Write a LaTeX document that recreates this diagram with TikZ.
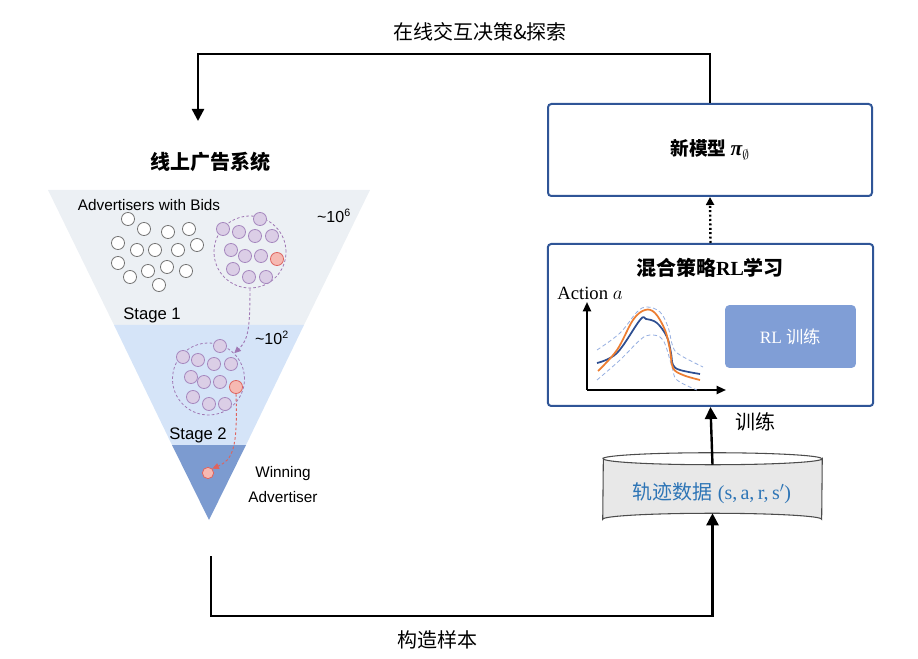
\documentclass[tikz,border=0pt]{standalone}
\usepackage{fontspec}
\setmainfont{Liberation Serif}
\setsansfont{Liberation Sans}
\newfontfamily\cjk{Noto Sans CJK SC}
\usetikzlibrary{arrows.meta}
\definecolor{funnelA}{RGB}{236,240,244}
\definecolor{funnelB}{RGB}{213,228,248}
\definecolor{funnelC}{RGB}{124,155,208}
\definecolor{ringpurple}{RGB}{160,120,180}
\definecolor{dotfill}{RGB}{219,206,230}
\definecolor{dotline}{RGB}{165,135,190}
\definecolor{redfill}{RGB}{246,185,178}
\definecolor{redline}{RGB}{222,100,95}
\definecolor{panelblue}{RGB}{47,85,151}
\definecolor{rlfill}{RGB}{128,158,214}
\definecolor{dbtext}{RGB}{46,117,182}
\definecolor{dbgray}{RGB}{232,232,232}
\definecolor{curveblue}{RGB}{45,78,145}
\definecolor{curveorange}{RGB}{237,125,49}
\definecolor{bandblue}{RGB}{150,175,225}

\begin{document}
\begin{tikzpicture}[x=0.75pt,y=0.75pt,yscale=-1,xscale=1,
  bidder/.style={circle,draw=black!55,fill=white,line width=0.6pt,minimum size=9.8pt,inner sep=0pt},
  pick/.style={circle,draw=dotline,fill=dotfill,line width=0.6pt,minimum size=9.8pt,inner sep=0pt},
  winner/.style={circle,draw=redline,fill=redfill,line width=0.6pt,minimum size=9.8pt,inner sep=0pt},
  ring/.style={circle,draw=ringpurple,dash pattern={on 2pt off 1.6pt},line width=0.6pt,minimum size=54pt,inner sep=0pt},
  passon/.style={draw=ringpurple,dash pattern={on 2pt off 1.6pt},line width=0.7pt,-{Triangle[length=5pt,width=4.5pt]}},
  flow/.style={line width=1.8pt,-{Triangle[length=9pt,width=9pt]}},
  axisarrow/.style={line width=1.5pt,-{Triangle[length=7pt,width=6pt]}},
  panel/.style={draw=panelblue,line width=1.5pt,rounded corners=2.5pt,fill=white},
  rlbtn/.style={fill=rlfill,rounded corners=3pt,minimum width=98pt,minimum height=47pt,text=white,font=\fontsize{13}{15}\selectfont},
  sanslbl/.style={font=\sffamily\fontsize{12.5}{14}\selectfont,inner sep=0.75pt},
  cjklbl/.style={font=\cjk\fontsize{15}{17}\selectfont,inner sep=0.75pt},
]
\useasboundingbox (0,0) rectangle (918,659);

%Funnel stages
\fill[funnelA] (48,190) -- (370,190) -- (304,325) -- (114,325) -- cycle;
\fill[funnelB] (114,325) -- (304,325) -- (246,445) -- (172,445) -- cycle;
\fill[funnelC] (172,445) -- (246,445) -- (209,520) -- cycle;

% Text Node
\node[cjklbl,font=\cjk\bfseries\fontsize{15}{17}\selectfont] (systitle) at (210,162) {线上广告系统};
% Text Node
\node[sanslbl,font=\sffamily\fontsize{11.5}{13}\selectfont] (bidslbl) at (149,205) {Advertisers with Bids};
% Text Node
\node[sanslbl,font=\sffamily\fontsize{12}{14}\selectfont] (pool6) at (334,216) {\textasciitilde10\textsuperscript{6}};
% Text Node
\node[sanslbl] (stage1) at (152,315) {Stage 1};
% Text Node
\node[sanslbl,font=\sffamily\fontsize{12}{14}\selectfont] (pool2) at (272,338) {\textasciitilde10\textsuperscript{2}};
% Text Node
\node[sanslbl] (stage2) at (198,435) {Stage 2};
% Text Node
\node[sanslbl,font=\sffamily\fontsize{11.5}{18.75}\selectfont,align=center] (winlbl) at (283,485) {Winning\\Advertiser};

%Stage 1 bidders
\foreach \cx/\cy [count=\i] in {128/219,144/229,168/232,189/229,118/243,137/250,155/250,178/250,197/245,118/263,148/271,167/267,186/271,130/277,159/285}
  \node[bidder] (w\i) at (\cx,\cy) {};
\node[ring] (ring1) at (250,252) {};
\foreach \cx/\cy [count=\i] in {260/219,223/229,239/232,255/236,272/236,231/250,245/256,261/256,233/269,249/277,266/277}
  \node[pick] (p\i) at (\cx,\cy) {};
\node[winner] (red1) at (277,259) {};

%Stage 2 shortlist
\node[ring] (ring2) at (208.5,379) {};
\foreach \cx/\cy [count=\i] in {220/346,183/357,198/360,214/364,231/364,191/377,204/382,220/382,193/397,209/404,225/404}
  \node[pick] (q\i) at (\cx,\cy) {};
\node[winner] (red2) at (236,387) {};

%Winning advertiser
\node[winner,minimum size=8.5pt] (champ) at (208,473) {};

%Curve Lines
\draw[passon] (ring1.south) .. controls (250,330) and (248,340) .. (ring2.north east);
\draw[passon,draw=redline] (red2.south) .. controls (238,450) and (232,460) .. (champ.north east);

%Model box
\node[panel,minimum width=243pt,minimum height=69pt] (model) at (710,150) {\cjk\bfseries\fontsize{14}{16}\selectfont 新模型 {\rmfamily\bfseries\itshape\fontsize{16}{16}\selectfont π}$_{\emptyset}$};

%Mixed policy box
\node[panel,minimum width=244pt,minimum height=121.5pt] (mix) at (710.5,325) {};
% Text Node
\node[inner sep=0.75pt,font=\bfseries\fontsize{15}{17}\selectfont] (mixtitle) at (710,268) {{\cjk 混合策略}RL{\cjk 学习}};
% Text Node
\node[inner sep=0pt,font=\fontsize{14}{16}\selectfont] (actlbl) at (590,293) {Action $a$};
\node[rlbtn] (rl) at (790.5,336.5) {RL {\cjk 训练}};

%Axes
\coordinate (ax0) at (587,390);
\draw[axisarrow] (ax0) -- (587,302);
\draw[axisarrow] (ax0) -- (726,390);

%Curve Lines
\draw[bandblue,dash pattern={on 3pt off 2pt},line width=0.6pt] plot[smooth,tension=0.6] coordinates {(597,350) (620,333) (637,312) (647,307) (660,312) (668,327) (673,347) (680,355) (703,367)};
\draw[bandblue,dash pattern={on 3pt off 2pt},line width=0.6pt] plot[smooth,tension=0.6] coordinates {(597,380) (620,360) (640,340) (650,335) (663,340) (672,367) (677,380) (697,390)};
\draw[curveblue,line width=1.3pt] plot[smooth,tension=0.6] coordinates {(597,363) (617,353) (640,320) (646,319) (657,323) (667,337) (671,353) (673,365) (680,370) (700,374)};
\draw[curveorange,line width=1.3pt] plot[smooth,tension=0.6] coordinates {(598,371) (617,350) (633,320) (645,310) (655,313) (665,330) (670,350) (673,368) (683,375) (700,380)};

%Trajectory data
\node[minimum width=164.25pt,minimum height=36pt,inner sep=0pt] (db) at (712.5,489) {};
\filldraw[fill=dbgray,draw=black!70,line width=0.8pt] ([yshift=4.5pt]db.south west) arc[start angle=180,end angle=360,x radius=82.1pt,y radius=4.5pt] -- ([yshift=-4.5pt]db.north east) arc[start angle=0,end angle=180,x radius=82.1pt,y radius=4.5pt] -- cycle;
\draw[black!70,line width=0.8pt] ([yshift=-4.5pt]db.north west) arc[start angle=180,end angle=360,x radius=82.1pt,y radius=4.5pt];
% Text Node
\node[inner sep=0.75pt,text=dbtext,font=\fontsize{15}{17}\selectfont] (dblbl) at (712,493) {{\cjk 轨迹数据} (s,\,a,\,r,\,s$'$)};

%Connectors
\coordinate (sysin) at (198,121);
\coordinate (sysout) at (211,556);
\draw[flow] (model.north) -- ++(0,-49) -| (sysin);
\draw[flow] (sysout) -- ++(0,60) -| (db.south);
\draw[flow] (db.north) -- (mix.south);
\draw[line width=1.8pt,dash pattern={on 1.5pt off 1.8pt},-{Triangle[length=6pt,width=6pt]}] (mix.north) -- (model.south);

% Text Node
\node[cjklbl] (explore) at (480,32) {在线交互决策\&探索};
% Text Node
\node[cjklbl] (sample) at (437,640) {构造样本};
% Text Node
\node[cjklbl] (train) at (755,422) {训练};

\end{tikzpicture}
\end{document}
